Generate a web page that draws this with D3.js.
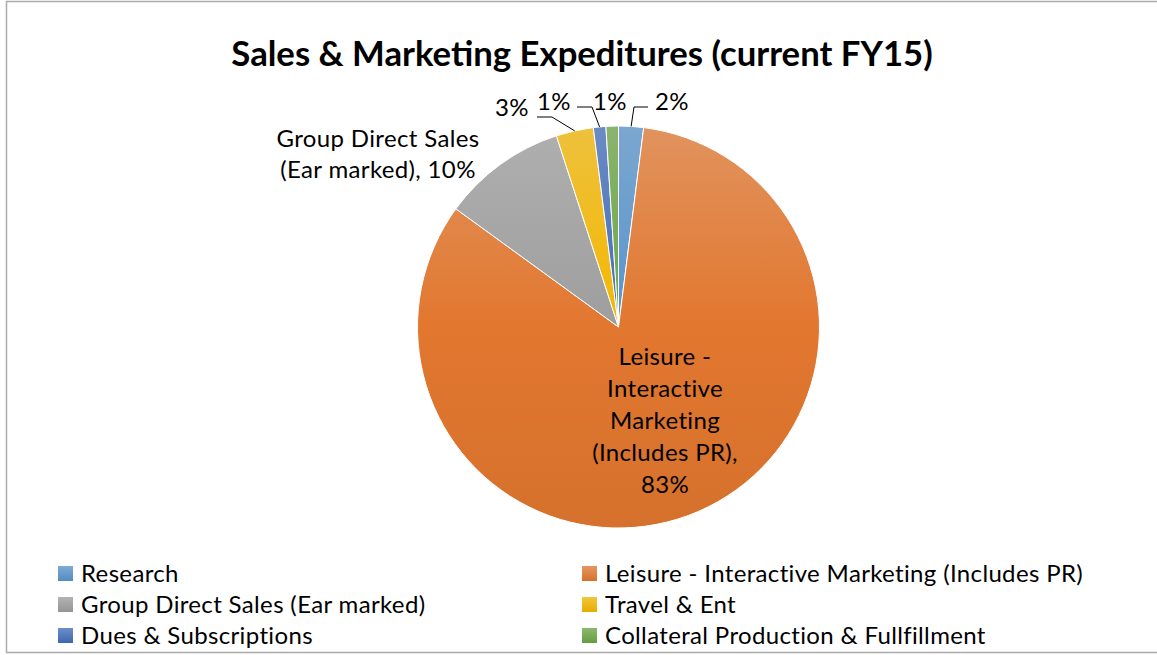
<!DOCTYPE html>
<html>
<head>
<meta charset="utf-8">
<script src="https://cdn.jsdelivr.net/npm/d3@7"></script>
<style>
  html, body { margin: 0; padding: 0; background: #fff; }
  svg { display: block; }
  text { font-family: Lato, "Open Sans", sans-serif; fill: #000; }
  .lbl { font-size: 24px; letter-spacing: 0.35px; }
</style>
</head>
<body>
<svg id="chart" width="1157" height="655"></svg>
<script>
// Spending categories, in the order the slices run clockwise from 12 o'clock
const categories = [
  "Research",
  "Leisure - Interactive Marketing (Includes PR)",
  "Group Direct Sales (Ear marked)",
  "Travel & Ent",
  "Dues & Subscriptions",
  "Collateral Production & Fullfillment"
];
// Share of the total, in percent
const shares = [2, 83, 10, 3, 1, 1];
// Base fill of each slice
const colors = ["#5B9BD5", "#ED7D31", "#A5A5A5", "#FFC000", "#4472C4", "#70AD47"];
// Category-name lines shown in the data labels (the percentage is appended)
const labelNameLines = [
  [],
  ["Leisure -", "Interactive", "Marketing", "(Includes PR),"],
  ["Group Direct Sales", "(Ear marked),"],
  [],
  [],
  []
];
const chartTitle = "Sales & Marketing Expeditures (current FY15)";

const W = 1157, H = 655;
const svg = d3.select("#chart");

// outer frame
svg.append("rect")
  .attr("x", 6.5).attr("y", 1.5)
  .attr("width", W + 10).attr("height", 651)
  .attr("fill", "#fff").attr("stroke", "#ABABAB").attr("stroke-width", 1.5);

// title
svg.append("text")
  .attr("x", 582).attr("y", 66)
  .attr("text-anchor", "middle")
  .style("font-size", "34.7px").style("font-weight", "bold")
  .text(chartTitle);

// pie geometry
const cx = 618.5, cy = 327, R = 201;
const g = svg.append("g").attr("transform", `translate(${cx},${cy})`);

const data = categories.map((c, i) => ({ name: c, value: shares[i], color: colors[i], i }));
const pie = d3.pie().value(d => d.value).sort(null).startAngle(0).endAngle(2 * Math.PI);
const arcs = pie(data);
const arc = d3.arc().innerRadius(0).outerRadius(R);

// vertical shading per slice: lighter at the top, deeper at the bottom
const defs = svg.append("defs");
const shade = (c, k) => { const r = d3.rgb(c); return d3.rgb(r.r * k, r.g * k, r.b * k); };
data.forEach(d => {
  const top = shade(d3.interpolateRgb(d.color, "#ffffff")(0.25), 0.93);
  const grad = defs.append("linearGradient")
    .attr("id", "grad" + d.i)
    .attr("gradientUnits", "userSpaceOnUse")
    .attr("x1", 0).attr("y1", -R).attr("x2", 0).attr("y2", R);
  grad.append("stop").attr("offset", "0%").attr("stop-color", top);
  grad.append("stop").attr("offset", "50%").attr("stop-color", shade(d.color, 0.955));
  grad.append("stop").attr("offset", "100%").attr("stop-color", shade(d.color, 0.9));
});

g.selectAll("path.slice")
  .data(arcs)
  .join("path")
  .attr("class", "slice")
  .attr("d", arc)
  .attr("fill", d => `url(#grad${d.data.i})`)
  .attr("stroke", "#fff")
  .attr("stroke-width", 1);

// point on the rim at the middle of a slice
const rimPoint = a => {
  const m = (a.startAngle + a.endAngle) / 2;
  return [cx + R * Math.sin(m), cy - R * Math.cos(m)];
};

// data-label placement: anchor x, first baseline, line step, and leader start
const labelLayout = [
  { x: 672, y: 110, step: 0, leader: [[648, 107], [634, 107]] },
  { x: 665, y: 365, step: 32, leader: null },
  { x: 378, y: 147, step: 31, leader: null },
  { x: 512, y: 116, step: 0, leader: [[537, 117], [552, 117]] },
  { x: 554, y: 110, step: 0, leader: [[577, 107], [592, 107]] },
  { x: 610, y: 110, step: 0, leader: null }
];

const pct = v => `${v}%`;
arcs.forEach((a, i) => {
  const L = labelLayout[i];
  const names = labelNameLines[i];
  let lines;
  if (names.length) {
    lines = names.slice();
    // percentage joins the last name line or sits on its own line
    if (i === 1) lines.push(pct(a.data.value));
    else lines[lines.length - 1] += " " + pct(a.data.value);
  } else {
    lines = [pct(a.data.value)];
  }
  const t = svg.append("text")
    .attr("class", "lbl")
    .attr("text-anchor", "middle");
  lines.forEach((ln, k) => {
    t.append("tspan").attr("x", L.x).attr("y", L.y + k * L.step).text(ln);
  });
  if (L.leader) {
    const pts = L.leader.concat([rimPoint(a)]);
    svg.append("polyline")
      .attr("points", pts.map(p => p.join(",")).join(" "))
      .attr("fill", "none").attr("stroke", "#000").attr("stroke-width", 1);
  }
});

// legend: two columns, three rows
const legendCols = [58, 582];
const legendRows = [574, 605, 636];
const leg = svg.append("g");
data.forEach((d, i) => {
  const x = legendCols[i % 2];
  const y = legendRows[Math.floor(i / 2)];
  const lg = defs.append("linearGradient")
    .attr("id", "lg" + i).attr("x1", 0).attr("y1", 0).attr("x2", 0).attr("y2", 1);
  lg.append("stop").attr("offset", "0%").attr("stop-color", shade(d3.interpolateRgb(d.color, "#ffffff")(0.25), 0.95));
  lg.append("stop").attr("offset", "100%").attr("stop-color", shade(d.color, 0.9));
  leg.append("rect")
    .attr("x", x).attr("y", y - 8)
    .attr("width", 15).attr("height", 15)
    .attr("fill", `url(#lg${i})`);
  leg.append("text")
    .attr("class", "lbl")
    .attr("x", x + 23).attr("y", y + 8)
    .text(d.name);
});
</script>
</body>
</html>
